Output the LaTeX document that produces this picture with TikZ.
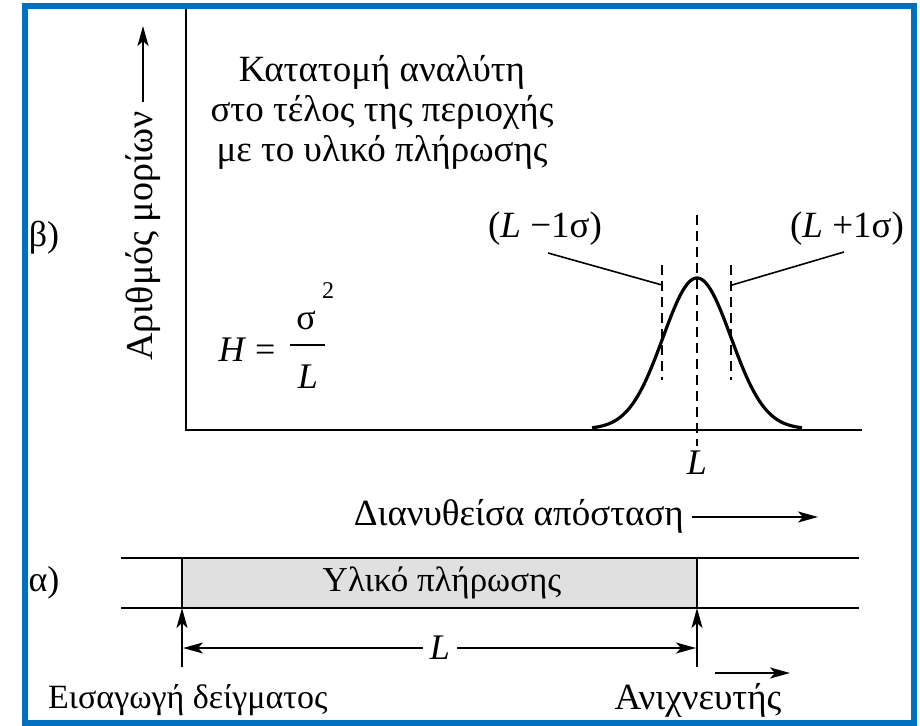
\documentclass[tikz,border=0pt]{standalone}
\usepackage{fontspec}
\setmainfont{Liberation Serif}
\usetikzlibrary{arrows.meta}
\definecolor{framebl}{RGB}{0,112,192}
\definecolor{fillgray}{RGB}{224,224,224}
\begin{document}
\begin{tikzpicture}[x=1pt,y=-1pt,
  txt/.style={font=\fontsize{36}{40}\selectfont, inner sep=0pt},
  axisline/.style={line width=2.2pt},
  leader/.style={line width=1.6pt},
  tipped/.style={line width=2.2pt,-{Stealth[length=20pt,width=11pt,inset=5pt]}},
  dtipped/.style={line width=2.2pt,{Stealth[length=20pt,width=11pt,inset=5pt]}-{Stealth[length=20pt,width=11pt,inset=5pt]}},
  dashline/.style={line width=1.8pt,dash pattern=on 10pt off 6pt},
  curve/.style={line width=3.2pt},
]
\useasboundingbox (0,0) rectangle (920,725);
\fill[white] (0,0) rectangle (920,725);
\draw[framebl,line width=6pt] (25,6) rectangle (914,723);

% axes
\coordinate (ytop) at (186,9);
\coordinate (orig) at (186,430);
\coordinate (xend) at (862,430);
\draw[axisline] (ytop) -- (orig) -- (xend);

% y label and arrow
\node[txt,font=\fontsize{38}{40}\selectfont,rotate=90] (ylab) at (143,236) {Αριθμός μορίων};
\coordinate (yarrA) at (143,102);
\coordinate (yarrB) at (143,26);
\draw[tipped] (yarrA) -- (yarrB);

\node[txt] (beta) at (44,238) {β)};

\node[txt,font=\fontsize{37}{40}\selectfont,align=center] (title) at (382,112) {Κατατομή αναλύτη\\στο τέλος της περιοχής\\με το υλικό πλήρωσης};

% formula
\node[txt] (Heq) at (247,350) {\textit{H} =};
\coordinate (barL) at (290,345);
\coordinate (barR) at (325,345);
\draw[line width=1.6pt] (barL) -- (barR);
\node[txt] (sig) at (306,320) {σ};
\node[font=\fontsize{24}{26}\selectfont, inner sep=0pt] (two) at (328,291) {2};
\node[txt] (Lf) at (308,377) {\textit{L}};

% gaussian
\draw[curve] plot[domain=592:802,samples=140,smooth] (\x,{429-151*exp(-((\x-697)*(\x-697))/(2*34*34))});
\coordinate (cTop) at (697,215);
\coordinate (cBot) at (697,446);
\draw[dashline] (cTop) -- (cBot);
\coordinate (sLtop) at (662,265);
\coordinate (sLbot) at (662,380);
\coordinate (sRtop) at (731,265);
\coordinate (sRbot) at (731,380);
\draw[dashline] (sLtop) -- (sLbot);
\draw[dashline] (sRtop) -- (sRbot);
\node[txt,font=\fontsize{37}{40}\selectfont] (Lm) at (545,229) {(\textit{L} −1σ)};
\node[txt,font=\fontsize{37}{40}\selectfont] (Lp) at (847,229) {(\textit{L} +1σ)};
\coordinate (ldL1) at (548,253);
\coordinate (ldL2) at (662,285);
\coordinate (ldR1) at (732,285);
\coordinate (ldR2) at (844,252);
\draw[leader] (ldL1) -- (ldL2);
\draw[leader] (ldR1) -- (ldR2);
\node[txt] (Laxis) at (697,463) {\textit{L}};

% distance label
\node[txt,font=\fontsize{37}{40}\selectfont,anchor=east] (dist) at (684,516) {Διανυθείσα απόσταση};
\coordinate (dA) at (692,517);
\coordinate (dB) at (818,517);
\draw[tipped] (dA) -- (dB);

% column
\coordinate (colTL) at (182,558);
\coordinate (colBR) at (697,608);
\fill[fillgray] (colTL) rectangle (colBR);
\coordinate (l1a) at (121,558);
\coordinate (l1b) at (859,558);
\coordinate (l2a) at (121,608);
\coordinate (l2b) at (859,608);
\draw[axisline] (l1a) -- (l1b);
\draw[axisline] (l2a) -- (l2b);
\draw[axisline] (182,558) -- (182,608);
\draw[axisline] (697,558) -- (697,608);
\node[txt,font=\fontsize{35}{40}\selectfont] (fill) at (442,583) {Υλικό πλήρωσης};
\node[txt] (alpha) at (44,583) {α)};

\coordinate (inA) at (182,667);
\coordinate (inB) at (182,608);
\coordinate (deA) at (697,667);
\coordinate (deB) at (697,608);
\draw[tipped] (inA) -- (inB);
\draw[tipped] (deA) -- (deB);
\coordinate (LL) at (183,648);
\coordinate (LR) at (696,648);
\draw[dtipped] (LL) -- (LR);
\node[txt,fill=white,inner xsep=7pt] (Lcol) at (440,648) {\textit{L}};

\coordinate (smA) at (715,673);
\coordinate (smB) at (790,673);
\draw[tipped] (smA) -- (smB);
\node[txt,font=\fontsize{34}{40}\selectfont,anchor=west] (inj) at (48,700) {Εισαγωγή δείγματος};
\node[txt,font=\fontsize{37}{40}\selectfont] (det) at (698,700) {Ανιχνευτής};
\end{tikzpicture}
\end{document}
